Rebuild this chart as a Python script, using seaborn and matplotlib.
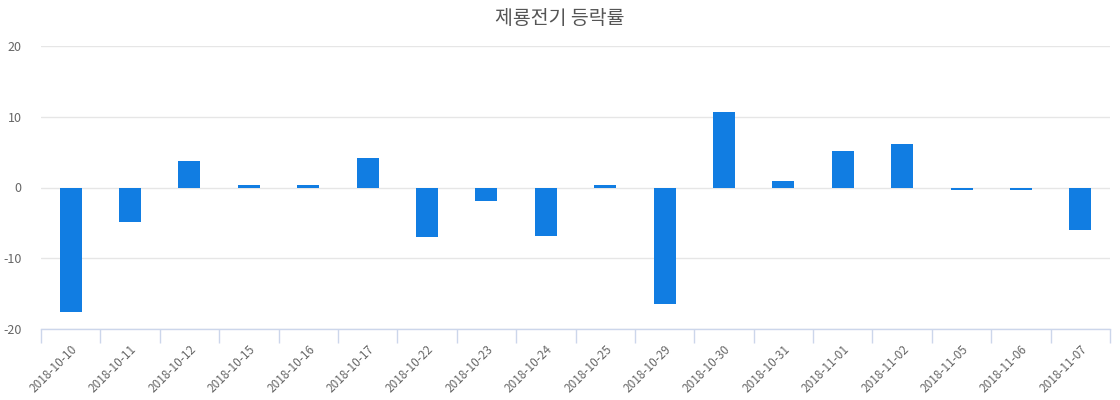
import matplotlib
matplotlib.use("Agg")
import matplotlib.pyplot as plt
import seaborn as sns
import pandas as pd
import numpy as np

dates = ["2018-10-10", "2018-10-11", "2018-10-12", "2018-10-15", "2018-10-16", "2018-10-17",
         "2018-10-22", "2018-10-23", "2018-10-24", "2018-10-25", "2018-10-29", "2018-10-30",
         "2018-10-31", "2018-11-01", "2018-11-02", "2018-11-05", "2018-11-06", "2018-11-07"]
values = [-17.6, -4.9, 3.8, 0.35, 0.35, 4.1,
          -7.0, -1.9, -6.9, 0.35, -16.5, 10.7,
          0.85, 5.1, 6.2, -0.35, -0.35, -6.0]
yticks = [-20, -10, 0, 10, 20]
title = "제룡전기 등락률"

sns.set_theme(style="white")
plt.rcParams['font.family'] = ['Noto Sans CJK KR', 'DejaVu Sans']

df = pd.DataFrame({"date": dates, "value": values})

fig = plt.figure(figsize=(11.2, 4.0), dpi=100)
ax = fig.add_axes([0.0366, 0.1775, 0.9545, 0.7075])

sns.barplot(data=df, x="date", y="value", color="#117de2", saturation=1,
            width=0.37, ax=ax, zorder=3, linewidth=0, edgecolor="none")

ax.set_ylim(-20, 20)
ax.set_xlim(-0.5, len(dates) - 0.5)
ax.set_yticks(yticks)
ax.set_yticklabels([str(t) for t in yticks], fontsize=9, color="#666666")
ax.yaxis.grid(True, color="#e6e6e6", linewidth=1, zorder=0)
ax.xaxis.grid(False)
ax.set_xlabel("")
ax.set_ylabel("")
for s in ["top", "right", "left"]:
    ax.spines[s].set_visible(False)
ax.spines["bottom"].set_color("#ccd6eb")
ax.spines["bottom"].set_linewidth(1)
ax.spines["bottom"].set_zorder(4)

ax.set_xticks(range(len(dates)))
ax.set_xticklabels(dates, rotation=45, ha="right", rotation_mode="anchor",
                   fontsize=8.5, color="#666666")
ax.set_xticks(np.arange(-0.5, len(dates), 1.0), minor=True)
ax.tick_params(axis="x", which="major", length=0, pad=10)
ax.tick_params(axis="x", which="minor", length=10, color="#ccd6eb", width=1, bottom=True)
ax.tick_params(axis="y", length=0, pad=14)

fig.text(0.5, 0.955, title, ha="center", va="center", fontsize=14, color="#555555")

fig.savefig("out.png", dpi=100, facecolor="white")
